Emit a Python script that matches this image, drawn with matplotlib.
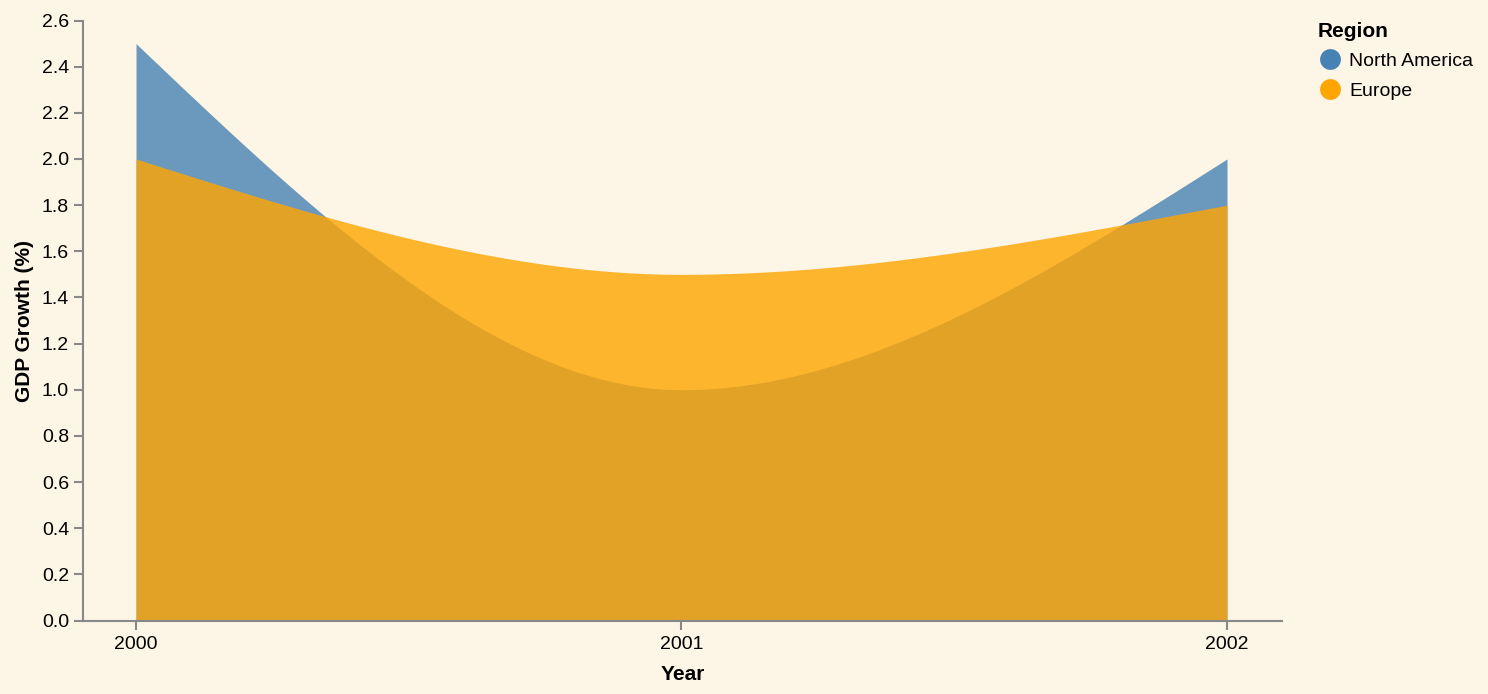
import matplotlib
matplotlib.use("Agg")
import matplotlib.pyplot as plt
from matplotlib.lines import Line2D
import numpy as np

plt.rcParams["font.family"] = ["Liberation Sans", "DejaVu Sans"]

years = [2000, 2001, 2002]
north_america = [2.5, 1.0, 2.0]
europe = [2.0, 1.5, 1.8]
regions = ["North America", "Europe"]
colors = {"North America": "#4682B4", "Europe": "#FFA500"}

BG = "#FDF5E6"
AXIS = "#888888"


def monotone_tangents(x, y):
    # same rule as d3.curveMonotoneX
    x = np.asarray(x, float)
    y = np.asarray(y, float)
    n = len(x)
    h = np.diff(x)
    s = np.diff(y) / h
    t = np.zeros(n)
    for i in range(1, n - 1):
        p = (s[i - 1] * h[i] + s[i] * h[i - 1]) / (h[i - 1] + h[i])
        t[i] = (np.sign(s[i - 1]) + np.sign(s[i])) * min(abs(s[i - 1]), abs(s[i]), 0.5 * abs(p))
    t[0] = (3 * s[0] - t[1]) / 2
    t[-1] = (3 * s[-1] - t[-2]) / 2
    return t


def monotone_curve(x, y, steps=200):
    x = np.asarray(x, float)
    y = np.asarray(y, float)
    t = monotone_tangents(x, y)
    xs, ys = [], []
    for i in range(len(x) - 1):
        h = x[i + 1] - x[i]
        u = np.linspace(0, 1, steps)
        h00 = 2 * u**3 - 3 * u**2 + 1
        h10 = u**3 - 2 * u**2 + u
        h01 = -2 * u**3 + 3 * u**2
        h11 = u**3 - u**2
        xs.append(x[i] + u * h)
        ys.append(h00 * y[i] + h10 * h * t[i] + h01 * y[i + 1] + h11 * h * t[i + 1])
    return np.concatenate(xs), np.concatenate(ys)


fig = plt.figure(figsize=(14.88, 6.94), dpi=100, facecolor=BG)
ax = fig.add_axes([83 / 1488, 73.5 / 694, 1199 / 1488, 600 / 694])
ax.set_facecolor(BG)

for name, vals in zip(regions, [north_america, europe]):
    cx, cy = monotone_curve(years, vals)
    ax.fill_between(cx, 0, cy, color=colors[name], alpha=0.8, linewidth=0)

ax.set_xlim(2000 - 53 / 545.5, 2002 + 55 / 545.5)
ax.set_ylim(0, 2.6)
ax.set_xticks(years)
ax.set_xticklabels([str(y) for y in years])
ax.set_yticks(np.arange(0, 2.61, 0.2))
ax.set_yticklabels([f"{v:.1f}" for v in np.arange(0, 2.61, 0.2)])

for side in ["top", "right"]:
    ax.spines[side].set_visible(False)
for side in ["left", "bottom"]:
    ax.spines[side].set_color(AXIS)
    ax.spines[side].set_linewidth(1.5)
ax.tick_params(axis="both", colors=AXIS, labelcolor="black", labelsize=14, length=6.5, width=1.5)
ax.tick_params(axis="x", pad=5)
ax.tick_params(axis="y", pad=3.5)

ax.set_xlabel("Year", fontsize=15, fontweight="bold", labelpad=8)
ax.set_ylabel("GDP Growth (%)", fontsize=15, fontweight="bold", labelpad=6)

handles = [
    Line2D([], [], marker="o", linestyle="none", markersize=15,
           markerfacecolor=colors[r], markeredgecolor="none")
    for r in regions
]
leg = fig.legend(handles, regions, loc="upper left", bbox_to_anchor=(1318 / 1488, 1 - 22 / 694),
                 frameon=False, title="Region", fontsize=14, title_fontsize=15,
                 handletextpad=0.4, labelspacing=0.6, alignment="left",
                 handlelength=1.2, borderpad=0, borderaxespad=0)
leg.get_title().set_fontweight("bold")

fig.savefig("out.png", dpi=100, facecolor=BG)
